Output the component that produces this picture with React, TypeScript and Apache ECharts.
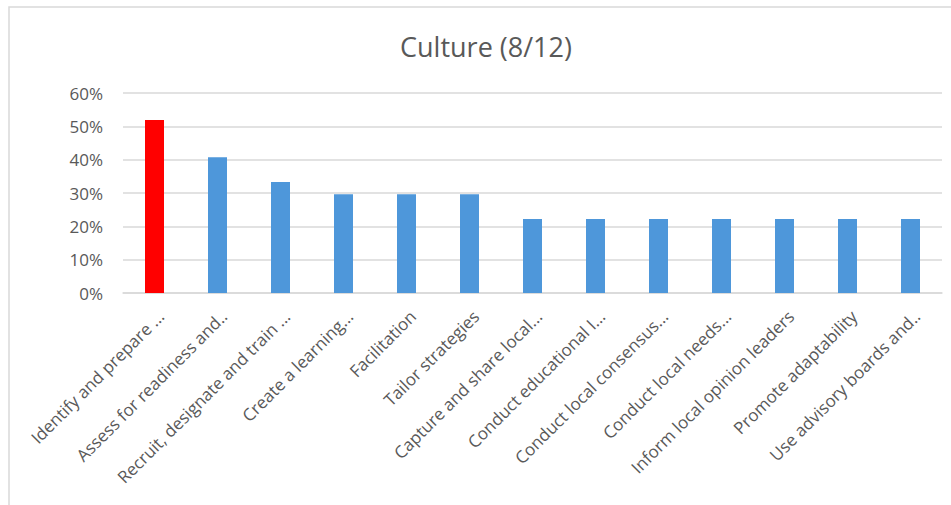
import React, { useEffect, useRef } from "react";
import * as echarts from "echarts";

const titleText = "Culture (8/12)";
const categories = [
  "Identify and prepare ...",
  "Assess for readiness and..",
  "Recruit, designate and train ...",
  "Create a learning...",
  "Facilitation",
  "Tailor strategies",
  "Capture and share local...",
  "Conduct educational I...",
  "Conduct local consensus...",
  "Conduct local needs...",
  "Inform local opinion leaders",
  "Promote adaptability",
  "Use advisory boards and..",
];
const values = [51.9, 40.7, 33.3, 29.6, 29.6, 29.6, 22.2, 22.2, 22.2, 22.2, 22.2, 22.2, 22.2];
const highlightIndex = 0;
const yMin = 0;
const yMax = 60;
const yInterval = 10;

const TEXT = "#595959";
const GRID = "#d9d9d9";
const RED = "#ff0000";
const BLUE = "#4e97da";

export default function App() {
  const ref = useRef<HTMLDivElement>(null);
  useEffect(() => {
    if (!ref.current) return;
    const chart = echarts.init(ref.current, null, { renderer: "svg" });
    chart.setOption({
      animation: false,
      backgroundColor: "#ffffff",
      textStyle: { fontFamily: "Open Sans" },
      graphic: [
        {
          type: "rect",
          shape: { x: 9, y: 7, width: 980, height: 540 },
          style: { fill: "none", stroke: GRID, lineWidth: 1.5 },
          silent: true,
        },
        {
          type: "text",
          x: 486,
          y: 46,
          style: {
            text: titleText,
            fill: TEXT,
            font: "27px 'Open Sans'",
            textAlign: "center",
            textVerticalAlign: "middle",
          },
        },
      ],
      grid: { left: 123, right: 9, top: 93, bottom: 212, containLabel: false },
      xAxis: {
        type: "category",
        data: categories,
        axisLine: { show: true, lineStyle: { color: GRID, width: 1.5 } },
        axisTick: { show: false },
        axisLabel: {
          rotate: 45,
          interval: 0,
          margin: 14,
          color: TEXT,
          fontSize: 17,
          fontFamily: "Open Sans",
          verticalAlign: "top",
          lineHeight: 18,
        },
      },
      yAxis: {
        type: "value",
        min: yMin,
        max: yMax,
        interval: yInterval,
        axisLine: { show: false },
        axisTick: { show: false },
        splitLine: { lineStyle: { color: GRID, width: 1.5 } },
        axisLabel: {
          formatter: "{value}%",
          color: TEXT,
          fontSize: 17,
          fontFamily: "Open Sans",
          margin: 20,
        },
      },
      series: [
        {
          type: "bar",
          data: values,
          barWidth: 19,
          itemStyle: {
            color: (p: any) => (p.dataIndex === highlightIndex ? RED : BLUE),
          },
        },
      ],
    });
    return () => chart.dispose();
  }, []);
  return (
    <div
      ref={ref}
      style={{ position: "absolute", left: 0, top: 0, width: 951, height: 505 }}
    />
  );
}
